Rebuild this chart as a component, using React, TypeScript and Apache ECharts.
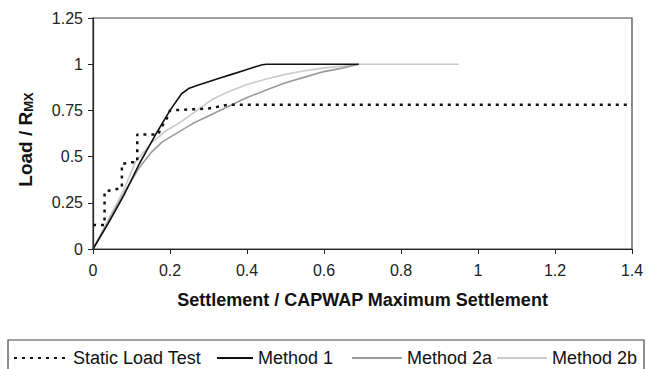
import React, { useEffect, useRef } from "react";
import * as echarts from "echarts";

const staticX = [0, 0.03, 0.03, 0.05, 0.075, 0.075, 0.1, 0.115, 0.115, 0.17, 0.175, 0.19, 0.2, 0.3, 0.35, 1.4];
const staticY = [0.13, 0.13, 0.31, 0.32, 0.33, 0.46, 0.47, 0.47, 0.62, 0.62, 0.65, 0.7, 0.75, 0.76, 0.78, 0.78];

const m1X = [0, 0.04, 0.08, 0.12, 0.16, 0.2, 0.23, 0.25, 0.27, 0.3, 0.33, 0.36, 0.39, 0.42, 0.44, 0.45, 0.69];
const m1Y = [0, 0.14, 0.29, 0.46, 0.61, 0.75, 0.84, 0.87, 0.885, 0.905, 0.925, 0.945, 0.965, 0.985, 0.997, 1.0, 1.0];

const m2aX = [0, 0.04, 0.08, 0.12, 0.15, 0.18, 0.22, 0.26, 0.3, 0.35, 0.4, 0.45, 0.5, 0.55, 0.6, 0.65, 0.69];
const m2aY = [0, 0.15, 0.3, 0.44, 0.52, 0.58, 0.63, 0.68, 0.72, 0.77, 0.82, 0.86, 0.9, 0.93, 0.96, 0.98, 1.0];

const m2bX = [0, 0.04, 0.08, 0.11, 0.15, 0.19, 0.23, 0.27, 0.31, 0.35, 0.4, 0.45, 0.5, 0.55, 0.6, 0.65, 0.69, 0.95];
const m2bY = [0, 0.16, 0.32, 0.47, 0.57, 0.64, 0.69, 0.75, 0.81, 0.85, 0.89, 0.92, 0.945, 0.965, 0.98, 0.99, 1.0, 1.0];

const seriesNames = ["Static Load Test", "Method 1", "Method 2a", "Method 2b"];
const xTitle = "Settlement / CAPWAP Maximum Settlement";

const zip = (xs: number[], ys: number[]) => xs.map((x, i) => [x, ys[i]]);

export default function App() {
  const ref = useRef<HTMLDivElement>(null);
  useEffect(() => {
    if (!ref.current) return;
    const chart = echarts.init(ref.current, undefined, { renderer: "svg" });
    const font = "Liberation Sans, Arial, sans-serif";
    const legendLefts = [13, 216, 351, 496];
    const legendWidths = [54, 36, 50, 50];
    chart.setOption({
      animation: false,
      backgroundColor: "#fff",
      textStyle: { fontFamily: font },
      grid: {
        left: 93, right: 24, top: 18, bottom: 120,
        show: true, borderColor: "#444", borderWidth: 1.2,
      },
      xAxis: {
        type: "value", min: 0, max: 1.4, interval: 0.2,
        name: xTitle, nameLocation: "middle", nameGap: 42,
        nameTextStyle: { fontSize: 18, fontWeight: "bold", color: "#111", verticalAlign: "top" },
        axisLine: { onZero: false, lineStyle: { color: "#222", width: 1.2 } },
        axisTick: { show: true, length: 5, lineStyle: { color: "#222" } },
        axisLabel: { fontSize: 16, color: "#222", margin: 13 },
        splitLine: { show: false },
      },
      yAxis: {
        type: "value", min: 0, max: 1.25, interval: 0.25,
        name: "{a|Load / R}{b|MX}", nameLocation: "middle", nameGap: 58,
        nameTextStyle: {
          padding: [0, 12, 0, 0],
          rich: {
            a: { fontSize: 19, fontWeight: "bold", color: "#111", fontFamily: font },
            b: { fontSize: 13, fontWeight: "bold", color: "#111", fontFamily: font, padding: [5, 0, 0, 0] },
          },
        },
        axisLine: { show: true, lineStyle: { color: "#222", width: 1.2 } },
        axisTick: { show: true, length: 5, lineStyle: { color: "#222" } },
        axisLabel: { fontSize: 16, color: "#222", margin: 10 },
        splitLine: { show: false },
      },
      legend: seriesNames.map((n, i) => ({
        left: legendLefts[i], top: 349,
        padding: 0,
        itemWidth: legendWidths[i], itemHeight: 14,
        itemStyle: { opacity: 0 },
        textStyle: { fontSize: 18, color: "#111" },
        data: [n],
      })),
      graphic: [
        {
          type: "rect",
          shape: { x: 8, y: 340, width: 636, height: 40 },
          style: { fill: "none", stroke: "#444", lineWidth: 1.2 },
          silent: true,
        },
      ],
      series: [
        {
          name: seriesNames[0], type: "line", data: zip(staticX, staticY),
          symbol: "none", lineStyle: { color: "#111", width: 2.5, type: [3, 5] },
          itemStyle: { color: "#111" }, z: 5,
        },
        {
          name: seriesNames[1], type: "line", data: zip(m1X, m1Y),
          symbol: "none", lineStyle: { color: "#111", width: 1.6 },
          itemStyle: { color: "#111" }, z: 4,
        },
        {
          name: seriesNames[2], type: "line", data: zip(m2aX, m2aY),
          symbol: "none", lineStyle: { color: "#9a9a9a", width: 1.6 },
          itemStyle: { color: "#9a9a9a" }, z: 3,
        },
        {
          name: seriesNames[3], type: "line", data: zip(m2bX, m2bY),
          symbol: "none", lineStyle: { color: "#cacaca", width: 1.6 },
          itemStyle: { color: "#cacaca" }, z: 2,
        },
      ],
    });
    return () => chart.dispose();
  }, []);
  return (
    <div
      ref={ref}
      style={{ position: "fixed", left: 0, top: 0, width: 656, height: 369 }}
    />
  );
}
